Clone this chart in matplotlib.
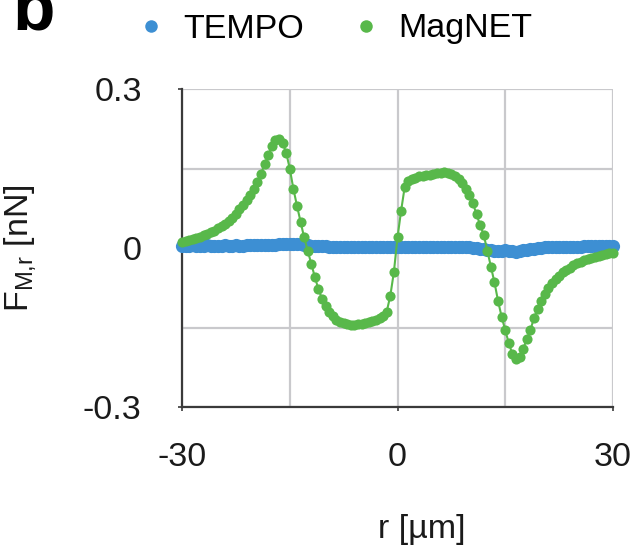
import numpy as np
import matplotlib
matplotlib.use("Agg")
import matplotlib.pyplot as plt
from matplotlib.lines import Line2D

plt.rcParams['font.family'] = ['Liberation Sans', 'DejaVu Sans']
plt.rcParams['mathtext.default'] = 'regular'

# radial position [um], step 0.5 from -30 to 30
r_um = np.arange(-30, 30.01, 0.5)

magnet_nN = [
    0.012, 0.013, 0.015, 0.017, 0.019, 0.021, 0.024, 0.027, 0.030, 0.033,
    0.037, 0.041, 0.046, 0.051, 0.057, 0.065, 0.074, 0.082, 0.091, 0.100,
    0.112, 0.125, 0.140, 0.158, 0.175, 0.192, 0.203, 0.205, 0.198, 0.180,
    0.150, 0.112, 0.080, 0.050, 0.020, -0.005, -0.030, -0.055, -0.078, -0.096,
    -0.110, -0.120, -0.128, -0.135, -0.139, -0.142, -0.144, -0.145, -0.145, -0.144,
    -0.143, -0.142, -0.140, -0.138, -0.136, -0.133, -0.128, -0.120, -0.090, -0.045,
    0.020,
    0.070, 0.115, 0.127, 0.131, 0.133, 0.135, 0.136, 0.137, 0.138, 0.139,
    0.141, 0.142, 0.143, 0.142, 0.140, 0.136, 0.130, 0.122, 0.112, 0.100,
    0.084, 0.064, 0.043, 0.025, -0.005, -0.035, -0.065, -0.100, -0.130, -0.155,
    -0.180, -0.200, -0.210, -0.205, -0.190, -0.172, -0.155, -0.132, -0.115, -0.100,
    -0.087, -0.075, -0.066, -0.058, -0.052, -0.046, -0.042, -0.037, -0.033, -0.029,
    -0.026, -0.023, -0.021, -0.019, -0.017, -0.015, -0.013, -0.012, -0.010, -0.009,
]

tempo_nN = [
    0.004, 0.004, 0.004, 0.005, 0.004, 0.004, 0.004, 0.005, 0.004, 0.004,
    0.004, 0.004, 0.005, 0.004, 0.004, 0.005, 0.004, 0.004, 0.005, 0.005,
    0.005, 0.005, 0.006, 0.005, 0.006, 0.006, 0.006, 0.007, 0.007, 0.007,
    0.008, 0.008, 0.007, 0.007, 0.006, 0.005, 0.004, 0.004, 0.003, 0.003,
    0.003, 0.002, 0.002, 0.002, 0.002, 0.002, 0.002, 0.002, 0.002, 0.002,
    0.002, 0.002, 0.002, 0.002, 0.002, 0.002, 0.002, 0.002, 0.002, 0.002,
    0.002,
    0.002, 0.002, 0.002, 0.002, 0.002, 0.002, 0.002, 0.002, 0.002, 0.002,
    0.002, 0.002, 0.002, 0.002, 0.002, 0.002, 0.002, 0.002, 0.001, 0.001,
    0.000, 0.000, -0.001, -0.002, -0.003, -0.004, -0.005, -0.006, -0.005, -0.004,
    -0.005, -0.006, -0.007, -0.006, -0.004, -0.003, -0.002, -0.001, 0.000, 0.000,
    0.001, 0.001, 0.001, 0.002, 0.002, 0.002, 0.002, 0.002, 0.002, 0.002,
    0.002, 0.003, 0.003, 0.003, 0.003, 0.003, 0.003, 0.003, 0.003, 0.003,
]

x_ticks = [-30, 0, 30]
x_ticklabels = ['-30', '0', '30']
y_ticks = [-0.3, 0, 0.3]
y_ticklabels = ['-0.3', '0', '0.3']

blue = '#3d8fd3'
green = '#58b84a'

fig = plt.figure(figsize=(6.37, 5.5), dpi=100)
ax = fig.add_axes([182/637, 1-407/550, 431/637, 318/550])

ax.plot(r_um, tempo_nN, 'o', color=blue, markersize=9.5, markeredgewidth=0, zorder=3, clip_on=False)
ax.plot(r_um, magnet_nN, '-', color=green, linewidth=1.5, zorder=4, clip_on=False)
ax.plot(r_um, magnet_nN, 'o', color=green, markersize=7.3, markeredgewidth=0, zorder=4, clip_on=False)

ax.set_xlim(-30, 30)
ax.set_ylim(-0.3, 0.3)
ax.set_xticks(x_ticks)
ax.set_xticklabels(x_ticklabels)
ax.set_yticks(y_ticks)
ax.set_yticklabels(y_ticklabels)
ax.set_xticks([-15, 15], minor=True)
ax.set_yticks([-0.15, 0.15], minor=True)
ax.grid(True, which='both', color='#c9c9cc', linewidth=1.6, zorder=0)
ax.set_axisbelow(True)

for s in ['top', 'right']:
    ax.spines[s].set_visible(False)
for s in ['left', 'bottom']:
    ax.spines[s].set_color('#3a3a3a')
    ax.spines[s].set_linewidth(1.6)

ax.tick_params(axis='both', which='major', length=3, width=1.2, color='#3a3a3a',
               labelsize=24.5, labelcolor='#1a1a1a')
ax.tick_params(axis='x', which='major', pad=22)
ax.tick_params(axis='y', which='major', pad=26)
ax.tick_params(which='minor', length=0)

ax.set_xlabel('r [µm]', fontsize=24.5, color='#1a1a1a')
ax.xaxis.set_label_coords(0.557, -0.335)
ax.set_ylabel('F$_{M{,}r}$ [nN]', fontsize=24.5, color='#1a1a1a')
ax.yaxis.set_label_coords(-0.335, 0.5)

handles = [Line2D([], [], marker='o', linestyle='', color=blue, markersize=9, markeredgewidth=0),
           Line2D([], [], marker='o', linestyle='', color=green, markersize=9, markeredgewidth=0)]
fig.legend(handles, ['TEMPO', 'MagNET'], loc='center', bbox_to_anchor=(333/637, 1-29/550),
           ncol=2, frameon=False, fontsize=24.5, handletextpad=0.45, columnspacing=1.3,
           handlelength=1.0)

fig.text(12/637, 1-29/550, 'b', fontsize=50, fontweight='bold', va='baseline', ha='left')

fig.savefig('out.png', dpi=100)
